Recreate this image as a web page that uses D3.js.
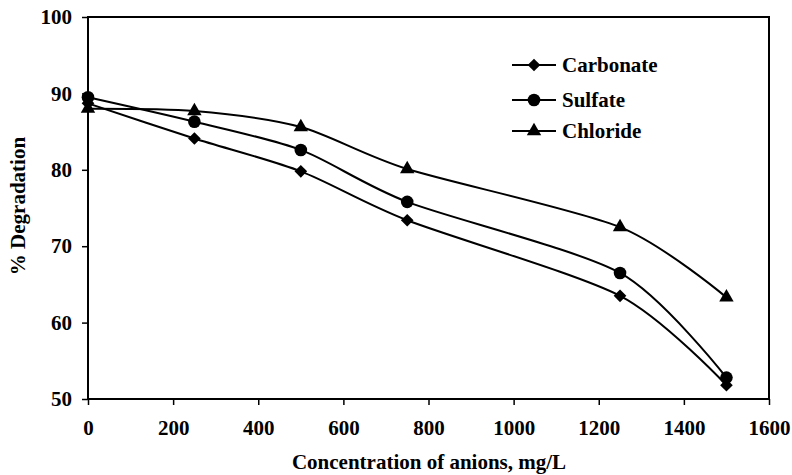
<!DOCTYPE html>
<html>
<head>
<meta charset="utf-8">
<script src="https://d3js.org/d3.v7.min.js"></script>
<style>
  body { margin: 0; background: #fff; }
  text { font-family: "Liberation Serif", "Times New Roman", serif; font-weight: bold; fill: #000; }
</style>
</head>
<body>
<div id="chart"></div>
<script>
// data
var concentration = [0, 250, 500, 750, 1250, 1500];
var carbonate = [88.7, 84.1, 79.8, 73.4, 63.5, 51.8];
var sulfate   = [89.5, 86.3, 82.6, 75.8, 66.5, 52.8];
var chloride  = [88.0, 87.7, 85.6, 80.1, 72.5, 63.3];
var seriesNames = ['Carbonate', 'Sulfate', 'Chloride'];
var xTicks = [0, 200, 400, 600, 800, 1000, 1200, 1400, 1600];
var yTicks = [50, 60, 70, 80, 90, 100];

var W = 792, H = 475;
var M = { top: 17, right: 23, bottom: 76, left: 88 };
var w = W - M.left - M.right, h = H - M.top - M.bottom;
var FS = '21px';

var svg = d3.select('#chart').append('svg')
    .attr('width', W).attr('height', H);
var g = svg.append('g').attr('transform', 'translate(' + M.left + ',' + M.top + ')');

var x = d3.scaleLinear().domain([0, 1600]).range([0, w]);
var y = d3.scaleLinear().domain([50, 100]).range([h, 0]);

// frame
g.append('rect').attr('width', w).attr('height', h)
    .attr('fill', 'none').attr('stroke', '#000').attr('stroke-width', 2);

// axes
var xAxis = g.append('g').attr('transform', 'translate(0,' + h + ')')
    .call(d3.axisBottom(x).tickValues(xTicks).tickFormat(d3.format('d')).tickSize(6).tickPadding(15));
var yAxis = g.append('g')
    .call(d3.axisLeft(y).tickValues(yTicks).tickFormat(d3.format('d')).tickSize(6).tickPadding(10));
[xAxis, yAxis].forEach(function(a) {
  a.select('.domain').remove();
  a.selectAll('line').attr('stroke', '#000').attr('stroke-width', 1.5);
  a.selectAll('text').style('font-size', FS).style('font-family', '"Liberation Serif", serif')
   .style('font-weight', 'bold').attr('fill', '#000');
});

// titles
svg.append('text').attr('x', 429).attr('y', 469)
    .attr('text-anchor', 'middle').style('font-size', FS)
    .text('Concentration of anions, mg/L');
svg.append('text').attr('transform', 'translate(25,206) rotate(-90)')
    .attr('text-anchor', 'middle').style('font-size', FS)
    .text('% Degradation');

var allSeries = [carbonate, sulfate, chloride];

// marker shapes: wide diamond, circle, triangle
var diamond = { draw: function(ctx, size) {
  var r = Math.sqrt(size / 2);
  ctx.moveTo(0, -r); ctx.lineTo(r, 0); ctx.lineTo(0, r); ctx.lineTo(-r, 0); ctx.closePath();
} };
var shapes = [diamond, d3.symbolCircle, d3.symbolTriangle];
var sizes = [80, 125, 90];

var line = d3.line()
    .x(function(d) { return x(d[0]); })
    .y(function(d) { return y(d[1]); })
    .curve(d3.curveCardinal.tension(0.2));

allSeries.forEach(function(vals, i) {
  var pts = concentration.map(function(c, k) { return [c, vals[k]]; });
  g.append('path').datum(pts)
      .attr('fill', 'none').attr('stroke', '#000').attr('stroke-width', 2)
      .attr('d', line);
  g.selectAll('.m' + i).data(pts).enter().append('path')
      .attr('transform', function(d) { return 'translate(' + x(d[0]) + ',' + y(d[1]) + ')'; })
      .attr('d', d3.symbol().type(shapes[i]).size(sizes[i]))
      .attr('fill', '#000');
});

// legend
var leg = svg.append('g').attr('transform', 'translate(512,65)');
seriesNames.forEach(function(name, i) {
  var row = leg.append('g').attr('transform', 'translate(0,' + [0, 35, 66][i] + ')');
  row.append('line').attr('x1', 0).attr('x2', 44)
      .attr('stroke', '#000').attr('stroke-width', 2);
  row.append('path').attr('transform', 'translate(22,0)')
      .attr('d', d3.symbol().type(shapes[i]).size(sizes[i])).attr('fill', '#000');
  row.append('text').attr('x', 50).attr('dy', '0.35em')
      .style('font-size', FS).text(name);
});
</script>
</body>
</html>
